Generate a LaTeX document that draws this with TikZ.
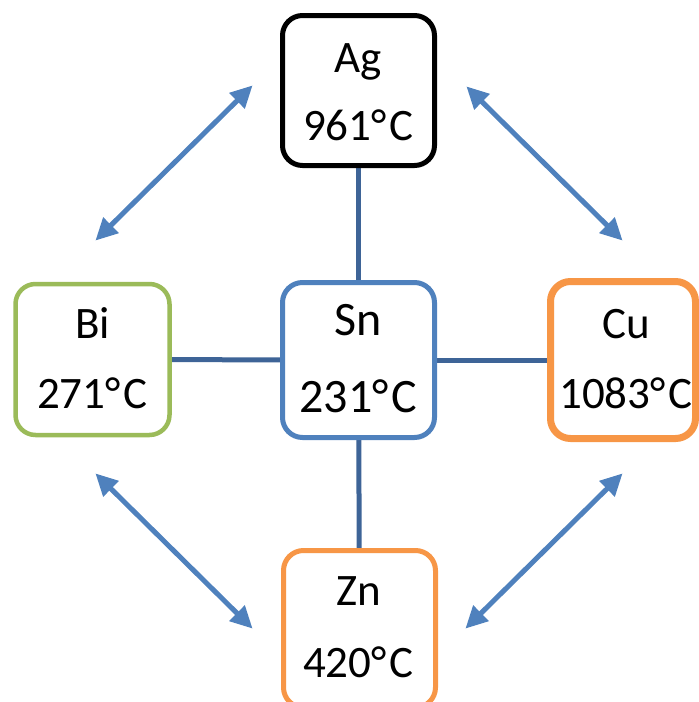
\documentclass[tikz,border=0pt]{standalone}
\usepackage{fontspec}
\setmainfont{Carlito}
\usetikzlibrary{arrows.meta,shadows}
\definecolor{boxblue}{HTML}{4F81BD}
\definecolor{boxgreen}{HTML}{9BBB59}
\definecolor{boxorange}{HTML}{F79646}
\definecolor{linkblue}{HTML}{3E6497}
% degree Celsius written as two separate glyphs
\newcommand{\degc}{°\kern3pt C}
\tikzset{
  metal/.style={draw, fill=white, rounded corners=20pt, line width=5pt, inner sep=0pt},
  lbl/.style={anchor=base, inner sep=0pt, font=\fontsize{45}{54}\selectfont},
  biglbl/.style={anchor=base, inner sep=0pt, font=\fontsize{48}{58}\selectfont},
  link/.style={draw=linkblue, line width=5pt},
  pair/.style={draw=boxblue, line width=5pt, {Triangle[length=22pt,width=21pt]}-{Triangle[length=22pt,width=21pt]}, shorten <=2pt, shorten >=2pt},
}
\begin{document}
\begin{tikzpicture}[x=1pt,y=-1pt]
\path[use as bounding box] (0,0) rectangle (699,702);
\clip (0,0) rectangle (699,702);

% element boxes (positions of box centres)
\coordinate (agc) at (358.5,90.5);
\coordinate (snc) at (358.5,360);
\coordinate (bic) at (92.5,359.5);
\coordinate (cuc) at (623,360);
\coordinate (znc) at (359.5,629);

% links from tin to the other metals
\path[link] (agc) -- (snc);
\path[link] (bic) -- (snc);
\path[link] (snc) -- (cuc);
\path[link] (snc) -- (znc);

\node[metal, draw=black, minimum width=152pt, minimum height=150pt] (ag) at (agc) {};
\node[metal, draw=boxblue, minimum width=152pt, minimum height=155pt] (sn) at (snc) {};
\node[metal, draw=boxgreen, line width=4.5pt, minimum width=154pt, minimum height=151pt] (bi) at (bic) {};
\node[metal, draw=boxorange, line width=7pt, minimum width=145pt, minimum height=157pt,
      drop shadow={opacity=0.35, shadow xshift=1pt, shadow yshift=-3pt}] (cu) at (cuc) {};
\node[metal, draw=boxorange, minimum width=152pt, minimum height=157pt] (zn) at (znc) {};

% labels
\node[lbl] (agn) at (358.5,72) {Ag};
\node[lbl] (agt) at (358.5,140) {961\degc};
\node[biglbl] (snn) at (358.5,335) {Sn};
\node[biglbl] (snt) at (358.5,412) {231\degc};
\node[lbl] (bin) at (92.5,338) {Bi};
\node[lbl] (bit) at (92.5,408) {271\degc};
\node[lbl] (cun) at (626,338) {Cu};
\node[lbl] (cut) at (626,408) {1083\degc};
\node[lbl] (znn) at (358.5,605) {Zn};
\node[lbl] (znt) at (358.5,677) {420\degc};

% two-way arrows between neighbouring metals
\coordinate (p1) at (94,242);  \coordinate (p2) at (254,84);
\coordinate (p3) at (465,85);  \coordinate (p4) at (624,242);
\coordinate (p5) at (94,472);  \coordinate (p6) at (254,630);
\coordinate (p7) at (464,630); \coordinate (p8) at (624,472);
\path[pair] (p1) -- (p2);
\path[pair] (p3) -- (p4);
\path[pair] (p5) -- (p6);
\path[pair] (p7) -- (p8);
\end{tikzpicture}
\end{document}
